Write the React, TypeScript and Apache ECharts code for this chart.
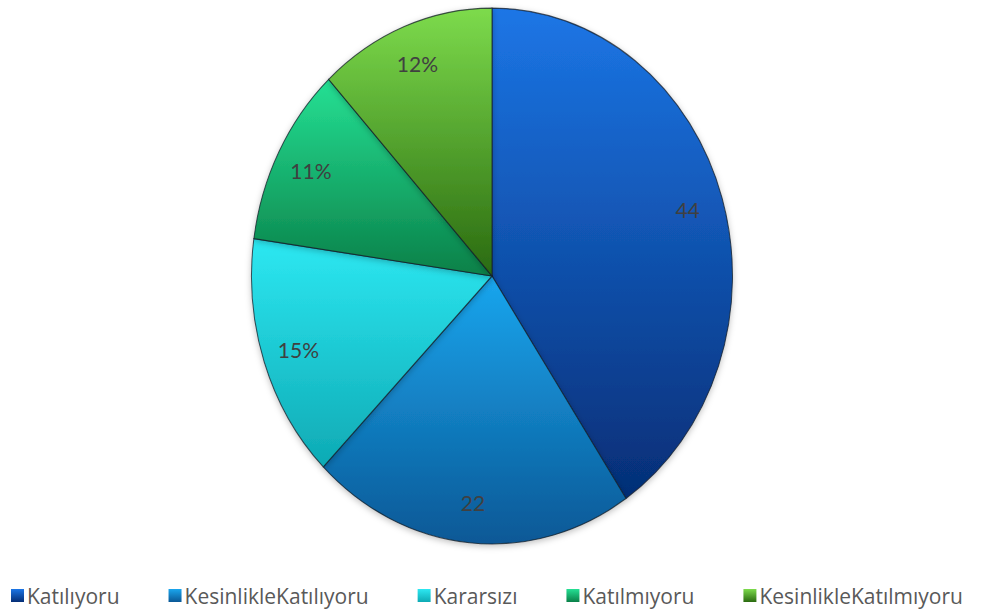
import React, { useEffect, useRef } from "react";
import * as echarts from "echarts";

const categories = ["Katılıyoru", "KesinlikleKatılıyoru", "Kararsızı", "Katılmıyoru", "KesinlikleKatılmıyoru"];
const values = [41, 22, 15, 11, 12];
const labelTexts = ["44", "22", "15%", "11%", "12%"];
const topColors = ["#1c76e6", "#1aa6ee", "#2de8f2", "#25e094", "#7ddb4c"];
const bottomColors = ["#052e76", "#0a5896", "#0eaab4", "#0a8048", "#2a6a10"];

const CX = 492;
const CY = 276;
const RX = 240.5;
const RY = 268;

export default function App() {
  const ref = useRef<HTMLDivElement>(null);
  useEffect(() => {
    if (!ref.current) return;
    const chart = echarts.init(ref.current, undefined, { renderer: "svg" });
    const total = values.reduce((a, b) => a + b, 0);
    const grad = (i: number) =>
      new echarts.graphic.LinearGradient(0, 0, 0, 1, [
        { offset: 0, color: topColors[i] },
        { offset: 1, color: bottomColors[i] },
      ]);
    const series = categories.map((name, i) => ({
      type: "custom",
      name,
      coordinateSystem: "none",
      itemStyle: { color: grad(i) },
      data: [[values[i]]],
      renderItem: (params: any, api: any) => {
        const idx = params.seriesIndex;
        let cum = 0;
        for (let k = 0; k < idx; k++) cum += values[k];
        const v = api.value(0);
        const start = -Math.PI / 2 + (2 * Math.PI * cum) / total;
        const end = start + (2 * Math.PI * v) / total;
        const mid = (start + end) / 2;
        const lr = 0.85;
        return {
          type: "group",
          children: [
            {
              type: "sector",
              x: CX,
              y: CY,
              scaleY: RY / RX,
              shape: { cx: 0, cy: 0, r0: 0, r: RX, startAngle: start, endAngle: end, clockwise: true },
              style: {
                fill: grad(idx),
                stroke: "rgba(20,30,40,0.75)",
                lineWidth: 1,
                shadowBlur: 6,
                shadowColor: "rgba(0,0,0,0.25)",
                shadowOffsetY: 2,
              },
            },
            {
              type: "text",
              x: CX + Math.cos(mid) * RX * lr,
              y: CY + Math.sin(mid) * RY * lr,
              style: {
                text: labelTexts[idx],
                fill: "#404040",
                fontSize: 21,
                fontFamily: "Lato",
                align: "center",
                verticalAlign: "middle",
              },
            },
          ],
        };
      },
    }));
    chart.setOption({
      animation: false,
      backgroundColor: "#ffffff",
      legend: {
        data: categories,
        left: 6,
        top: 580,
        icon: "rect",
        itemWidth: 13,
        itemHeight: 13,
        itemGap: 49,
        textStyle: { fontSize: 21, color: "#595959", fontFamily: "Open Sans", padding: [0, 0, 0, -2] },
        selectedMode: false,
      },
      series,
    });
    return () => chart.dispose();
  }, []);
  return (
    <div
      ref={ref}
      style={{ position: "fixed", left: 0, top: 0, width: 985, height: 610 }}
    />
  );
}
